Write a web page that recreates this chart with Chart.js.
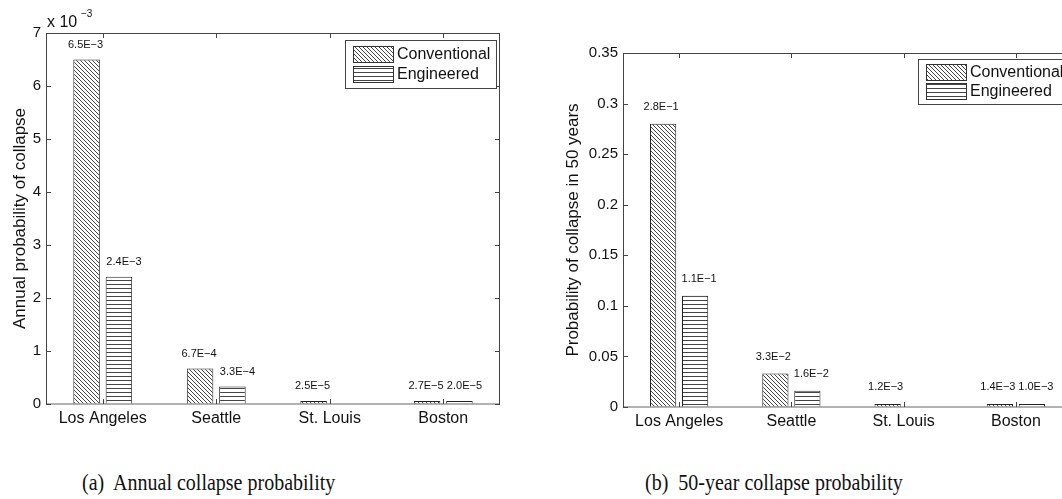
<!DOCTYPE html>
<html>
<head>
<meta charset="utf-8">
<script src="https://cdn.jsdelivr.net/npm/chart.js@4/dist/chart.umd.min.js"></script>
<style>
  body { margin: 0; width: 1062px; height: 499px; overflow: hidden; background: #fff; position: relative; }
  #annualChart { position: absolute; left: 0; top: 0; }
  #fiftyChart { position: absolute; left: 540px; top: 0; }
  .caption {
    position: absolute;
    font-family: "Liberation Serif", "DejaVu Serif", serif;
    font-size: 20px;
    line-height: 20px;
    white-space: pre;
    color: #111;
    transform: scaleY(1.15);
    transform-origin: 0 100%;
  }
</style>
</head>
<body>
<canvas id="annualChart" width="540" height="440"></canvas>
<canvas id="fiftyChart" width="540" height="440"></canvas>
<div class="caption" style="left:82px; top:473px">(a)  Annual collapse probability</div>
<div class="caption" style="left:645px; top:473px">(b)  50-year collapse probability</div>
<script>
const cities = ["Los Angeles", "Seattle", "St. Louis", "Boston"];
const seriesNames = ["Conventional", "Engineered"];

// annual probability of collapse
const annualConventional = [6.5e-3, 6.7e-4, 2.5e-5, 2.7e-5];
const annualEngineered = [2.4e-3, 3.3e-4, null, 2.0e-5];
const annualTickValues = [0, 0.001, 0.002, 0.003, 0.004, 0.005, 0.006, 0.007];
const annualTickLabels = ["0", "1", "2", "3", "4", "5", "6", "7"]; // x 10^-3

// probability of collapse in 50 years
const fiftyConventional = [2.8e-1, 3.3e-2, 1.2e-3, 1.4e-3];
const fiftyEngineered = [1.1e-1, 1.6e-2, null, 1.0e-3];
const fiftyTickValues = [0, 0.05, 0.1, 0.15, 0.2, 0.25, 0.3, 0.35];
const fiftyTickLabels = ["0", "0.05", "0.1", "0.15", "0.2", "0.25", "0.3", "0.35"];

const SANS = "'Liberation Sans', Arial, Helvetica, sans-serif";

function makeHatch(kind) {
  const c = document.createElement("canvas");
  c.width = 4;
  c.height = 4;
  const g = c.getContext("2d");
  g.fillStyle = "#fff";
  g.fillRect(0, 0, 4, 4);
  g.fillStyle = "#444";
  if (kind === "diag") {
    for (let i = 0; i < 4; i++) g.fillRect(i, i, 1, 1);
  } else {
    g.fillRect(0, 0, 4, 1);
  }
  return g.createPattern(c, "repeat");
}
const hatches = [makeHatch("diag"), makeHatch("horiz")];

function sciLabel(v) {
  return v.toExponential(1).toUpperCase().replace("-", "\u2212");
}

// frame, inward ticks, bar value labels, boxed legend
function decorPlugin(opts) {
  return {
    id: "decor",
    afterDatasetsDraw(chart) {
      const ctx = chart.ctx;
      const a = chart.chartArea;
      const x = chart.scales.x;
      const y = chart.scales.y;
      ctx.save();

      // baseline
      ctx.strokeStyle = "#999";
      ctx.lineWidth = 1.5;
      ctx.beginPath();
      ctx.moveTo(a.left, a.bottom);
      ctx.lineTo(a.right, a.bottom);
      ctx.stroke();

      // frame
      ctx.strokeStyle = "#444";
      ctx.lineWidth = 1;
      ctx.beginPath();
      ctx.moveTo(a.left + 0.5, a.bottom);
      ctx.lineTo(a.left + 0.5, a.top + 0.5);
      ctx.lineTo(a.right - 0.5, a.top + 0.5);
      ctx.lineTo(a.right - 0.5, a.bottom);
      ctx.stroke();

      // y ticks
      y.ticks.forEach((t) => {
        const py = Math.round(y.getPixelForValue(t.value)) + 0.5;
        ctx.beginPath();
        ctx.moveTo(a.left, py);
        ctx.lineTo(a.left + 5, py);
        ctx.moveTo(a.right, py);
        ctx.lineTo(a.right - 5, py);
        ctx.stroke();
      });
      // x ticks
      x.ticks.forEach((t, i) => {
        const px = Math.round(x.getPixelForTick(i)) + 0.5;
        ctx.beginPath();
        ctx.moveTo(px, a.top);
        ctx.lineTo(px, a.top + 5);
        ctx.moveTo(px, a.bottom);
        ctx.lineTo(px, a.bottom - 5);
        ctx.stroke();
      });

      // value labels
      ctx.fillStyle = "#111";
      ctx.font = "11px " + SANS;
      ctx.textAlign = "center";
      ctx.textBaseline = "middle";
      chart.data.datasets.forEach((ds, di) => {
        const meta = chart.getDatasetMeta(di);
        meta.data.forEach((bar, i) => {
          const v = ds.data[i];
          if (v == null) return;
          const top = Math.min(bar.y, y.getPixelForValue(v));
          ctx.fillText(sciLabel(v), bar.x + opts.labelShift[di], top - opts.labelGap);
        });
      });

      // legend
      const L = opts.legend;
      ctx.fillStyle = "#fff";
      ctx.fillRect(L.x, L.y, L.w, L.h);
      ctx.strokeStyle = "#444";
      ctx.strokeRect(L.x + 0.5, L.y + 0.5, L.w, L.h);
      ctx.font = "16px " + SANS;
      ctx.textAlign = "left";
      chart.data.datasets.forEach((ds, di) => {
        const cy = L.y + L.h * (di === 0 ? 0.29 : 0.71);
        const sx = L.x + 8;
        ctx.fillStyle = ds.backgroundColor;
        ctx.fillRect(sx, cy - 8, 40, 16);
        ctx.strokeStyle = "#333";
        ctx.strokeRect(sx + 0.5, Math.round(cy - 8) + 0.5, 40, 16);
        ctx.fillStyle = "#111";
        ctx.fillText(ds.label, sx + 44, cy + 1);
      });

      // axis multiplier
      if (opts.exponent) {
        ctx.font = "16px " + SANS;
        ctx.textBaseline = "alphabetic";
        ctx.fillText("x 10", a.left + 1, a.top - 6);
        ctx.font = "10px " + SANS;
        ctx.fillText("\u22123", a.left + 35, a.top - 16);
      }
      ctx.restore();
    },
  };
}

function buildChart(id, conv, eng, tickValues, tickLabels, o) {
  return new Chart(document.getElementById(id), {
    type: "bar",
    data: {
      labels: cities,
      datasets: [
        {
          label: seriesNames[0],
          data: conv,
          backgroundColor: hatches[0],
          borderColor: "#222",
          borderWidth: 1,
        },
        {
          label: seriesNames[1],
          data: eng,
          backgroundColor: hatches[1],
          borderColor: "#222",
          borderWidth: 1,
        },
      ],
    },
    options: {
      responsive: false,
      animation: false,
      devicePixelRatio: 1,
      categoryPercentage: 0.57,
      barPercentage: 0.82,
      minBarLength: 3,
      layout: { padding: { left: 0, right: o.padRight, top: o.padTop, bottom: 0 } },
      plugins: { legend: { display: false }, tooltip: { enabled: false } },
      scales: {
        x: {
          grid: { display: false, drawTicks: false },
          border: { display: false },
          ticks: { color: "#111", font: { family: SANS, size: 16 }, padding: 5 },
          afterFit: (s) => { s.height = o.xHeight; },
        },
        y: {
          min: 0,
          max: tickValues[tickValues.length - 1],
          grid: { display: false, drawTicks: false },
          border: { display: false },
          afterBuildTicks: (s) => { s.ticks = tickValues.map((v) => ({ value: v })); },
          ticks: {
            color: "#111",
            font: { family: SANS, size: 15 },
            padding: 5,
            callback: (v, i) => tickLabels[i],
          },
          title: {
            display: true,
            text: o.yTitle,
            color: "#111",
            font: { family: SANS, size: 17 },
            padding: { top: o.titlePad, bottom: 0 },
          },
          afterFit: (s) => { s.width = o.yWidth; },
        },
      },
    },
    plugins: [decorPlugin(o)],
  });
}

buildChart("annualChart", annualConventional, annualEngineered, annualTickValues, annualTickLabels, {
  yTitle: "Annual probability of collapse",
  yWidth: 46,
  xHeight: 36,
  padTop: 33,
  padRight: 40,
  titlePad: 10,
  labelShift: [-1, 5],
  labelGap: 15,
  exponent: true,
  legend: { x: 345, y: 40, w: 151, h: 48 },
});

buildChart("fiftyChart", fiftyConventional, fiftyEngineered, fiftyTickValues, fiftyTickLabels, {
  yTitle: "Probability of collapse in 50 years",
  yWidth: 83,
  xHeight: 33,
  padTop: 53,
  padRight: 8,
  titlePad: 23,
  labelShift: [-2, 4],
  labelGap: 17,
  exponent: false,
  legend: { x: 378, y: 59, w: 200, h: 45 },
});
</script>
</body>
</html>
